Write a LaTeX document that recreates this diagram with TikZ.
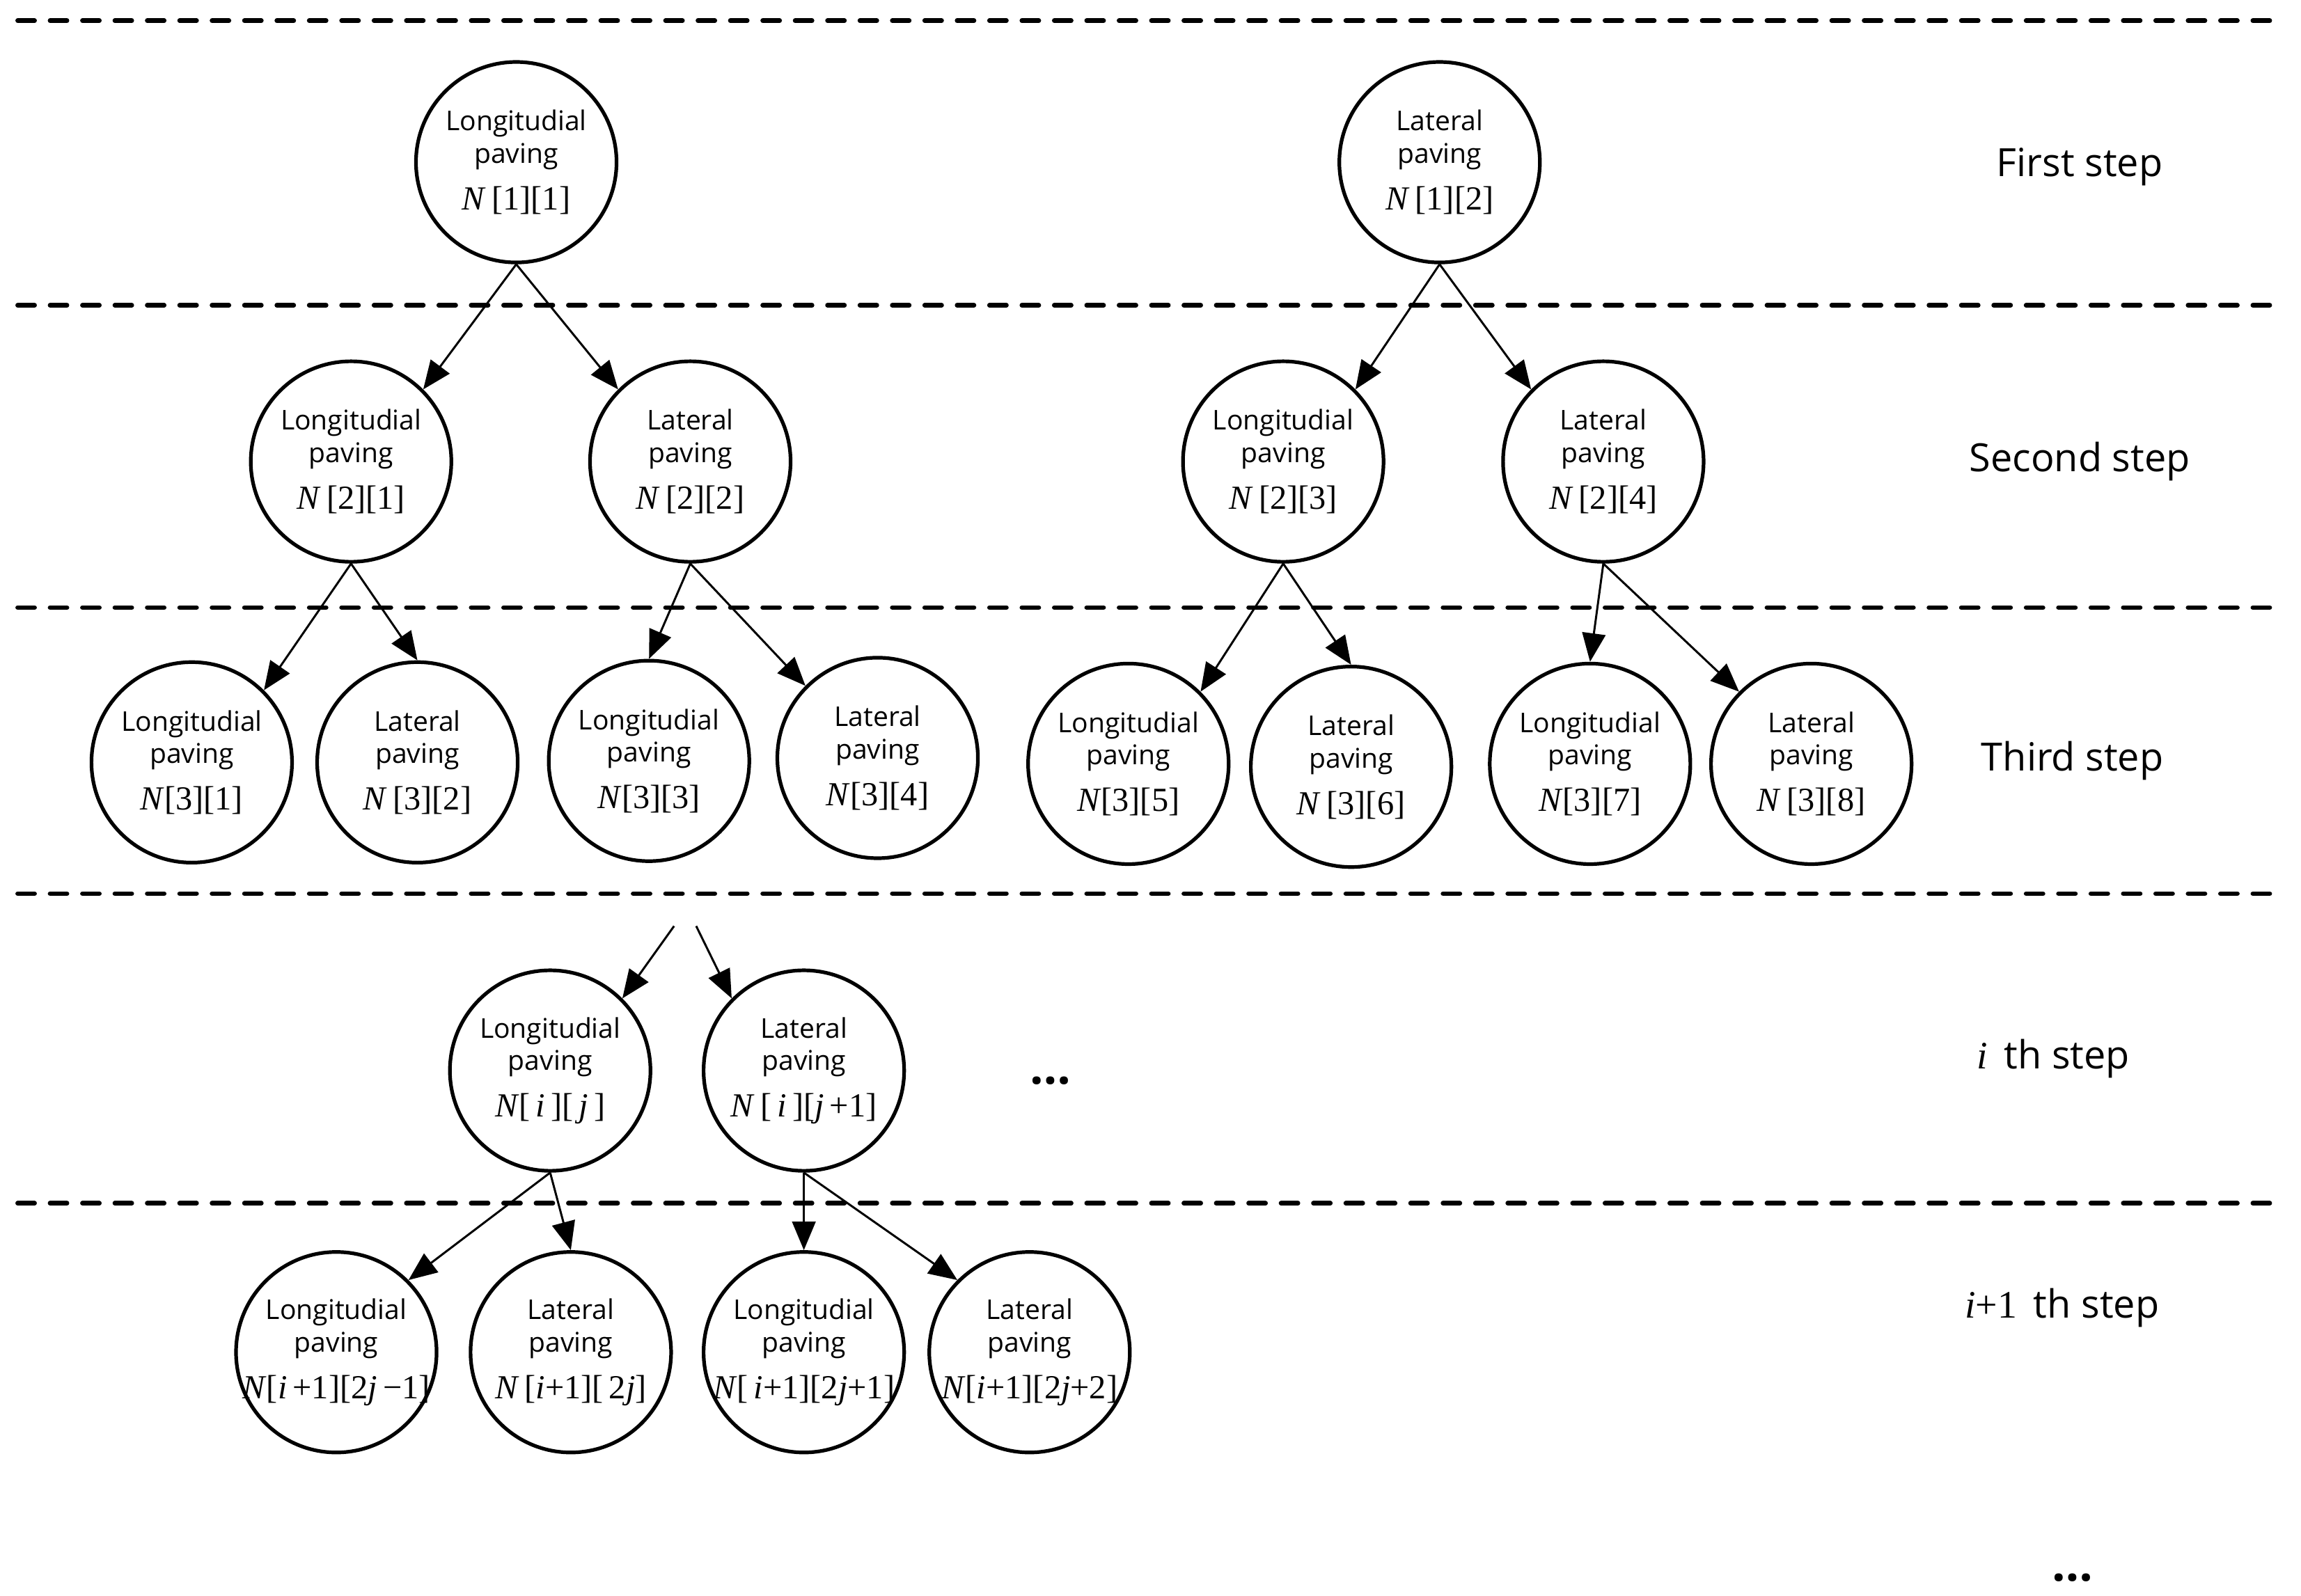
\documentclass[tikz,border=0pt]{standalone}
\usepackage{fontspec}
\setmainfont{Open Sans}
\newfontfamily\tms{Liberation Serif}
\usetikzlibrary{arrows.meta}

\newcommand{\nlab}[1]{\makebox[1.9cm]{\tms\fontsize{13}{15}\selectfont #1}}
\newcommand{\lon}[1]{Longitudial\\paving\\[5.5pt]\nlab{#1}}
\newcommand{\lat}[1]{Lateral\\paving\\[5.5pt]\nlab{#1}}

\begin{document}
\begin{tikzpicture}[x=0.02cm,y=-0.02cm]
    \tikzset{pave/.style={draw=black,line width=1.4pt,circle,minimum size=2.72cm,inner sep=0pt,align=center,font=\fontsize{10.5}{12.5}\selectfont}}
    \tikzset{edge/.style={line width=0.8pt,-{Triangle[length=11pt,width=9pt]}}}
    \tikzset{level/.style={font=\fontsize{15}{18}\selectfont}}
    \tikzset{sep/.style={line width=1.8pt,line cap=round,dash pattern=on 6.5pt off 6pt}}

    \useasboundingbox (0,0) rectangle (1560,1082);

    % step separators
    \draw[sep] (12,14) -- (1540,14);
    \draw[sep] (12,207) -- (1540,207);
    \draw[sep] (12,412) -- (1540,412);
    \draw[sep] (12,606) -- (1540,606);
    \draw[sep] (12,816) -- (1540,816);

    % first step
    \node[pave] (11) at (350,110) {\lon{\textit{N}\,[1][1]}};
    \node[pave] (12) at (976,110) {\lat{\textit{N}\,[1][2]}};

    % second step
    \node[pave] (21) at (238,313) {\lon{\textit{N}\,[2][1]}};
    \node[pave] (22) at (468,313) {\lat{\textit{N}\,[2][2]}};
    \node[pave] (23) at (870,313) {\lon{\textit{N}\,[2][3]}};
    \node[pave] (24) at (1087,313) {\lat{\textit{N}\,[2][4]}};

    % third step
    \node[pave] (31) at (130,517) {\lon{\textit{N}[3][1]}};
    \node[pave] (32) at (283,517) {\lat{\textit{N}\,[3][2]}};
    \node[pave] (33) at (440,516) {\lon{\textit{N}[3][3]}};
    \node[pave] (34) at (595,514) {\lat{\textit{N}[3][4]}};
    \node[pave] (35) at (765,518) {\lon{\textit{N}[3][5]}};
    \node[pave] (36) at (916,520) {\lat{\textit{N}\,[3][6]}};
    \node[pave] (37) at (1078,518) {\lon{\textit{N}[3][7]}};
    \node[pave] (38) at (1228,518) {\lat{\textit{N}\,[3][8]}};

    % i th step
    \coordinate (s1) at (457,628);
    \coordinate (s2) at (472,628);
    \node[pave] (i1) at (373,726) {\lon{\textit{N}[\,\textit{i}\,][\,\textit{j}\,]}};
    \node[pave] (i2) at (545,726) {\lat{\textit{N}\,[\,\textit{i}\,][\textit{j}\,+1]}};
    \node (dots1) at (712,733) {\fontsize{18.5}{18.5}\selectfont\textbf{…}};

    % i+1 th step
    \node[pave] (k1) at (228,917) {\lon{\textit{N}[\textit{i}\,+1][2\textit{j}\,−1]}};
    \node[pave] (k2) at (387,917) {\lat{\textit{N}\,[\textit{i}+1][\,2\textit{j}]}};
    \node[pave] (k3) at (545,917) {\lon{\textit{N}[\,\textit{i}+1][2\textit{j}+1]}};
    \node[pave] (k4) at (698,917) {\lat{\textit{N}[\textit{i}+1][2\textit{j}+2]}};

    % step labels
    \node[level] (l1) at (1410,113) {First step};
    \node[level] (l2) at (1410,313) {Second step};
    \node[level] (l3) at (1405,516) {Third step};
    \node[level] (l4) at (1392,718) {{\tms\textit{i}}\, th step};
    \node[level] (l5) at (1398,887) {{\tms\textit{i}+1}\, th step};
    \node (dots2) at (1405,1070) {\fontsize{18.5}{18.5}\selectfont\textbf{…}};

    \draw[edge] (11.south) -- (21.north east);
    \draw[edge] (11.south) -- (22.north west);
    \draw[edge] (12.south) -- (23.north east);
    \draw[edge] (12.south) -- (24.north west);

    \draw[edge] (21.south) -- (31.north east);
    \draw[edge] (21.south) -- (32.north);
    \draw[edge] (22.south) -- (33.north);
    \draw[edge] (22.south) -- (34.north west);
    \draw[edge] (23.south) -- (35.north east);
    \draw[edge] (23.south) -- (36.north);
    \draw[edge] (24.south) -- (37.north);
    \draw[edge] (24.south) -- (38.north west);

    \draw[edge] (s1) -- (i1.north east);
    \draw[edge] (s2) -- (i2.north west);

    \draw[edge] (i1.south) -- (k1.north east);
    \draw[edge] (i1.south) -- (k2.north);
    \draw[edge] (i2.south) -- (k3.north);
    \draw[edge] (i2.south) -- (k4.north west);
\end{tikzpicture}
\end{document}
